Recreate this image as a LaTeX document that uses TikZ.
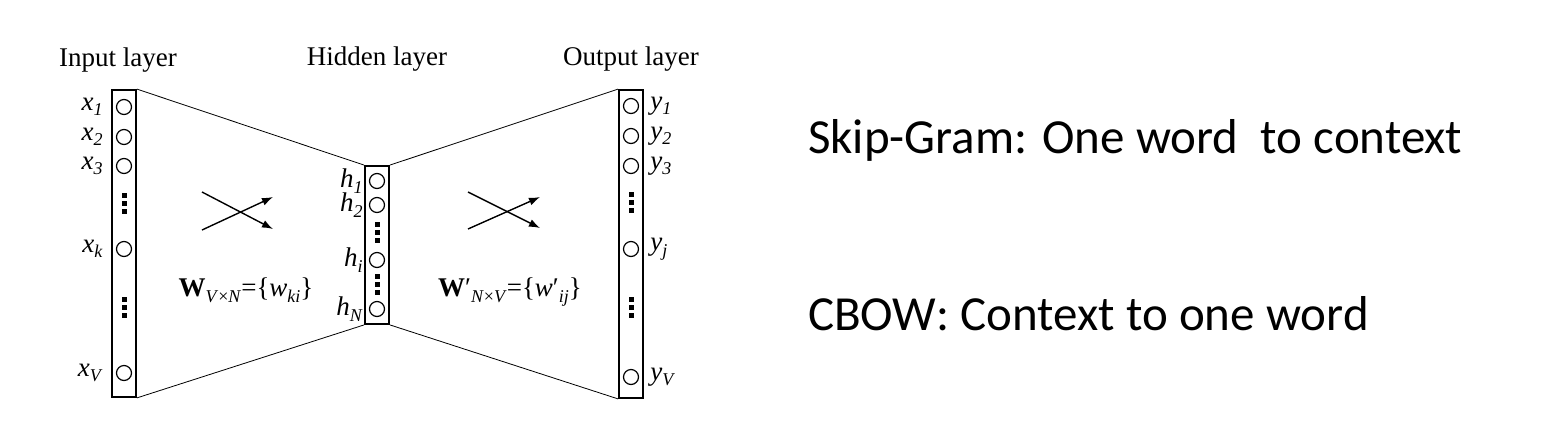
\documentclass[tikz,border=0pt]{standalone}
\usepackage{fontspec}
\setmainfont{Liberation Serif}
\newfontfamily\calib{Carlito}
\usetikzlibrary{arrows.meta}

\newcommand\sub[2]{\textit{#1}\raisebox{-0.45ex}{\fontsize{18}{18}\selectfont\textit{#2}}}

\tikzset{
  layer/.style={draw, line width=1.8pt, minimum width=24pt, inner sep=0pt},
  neuron/.style={circle, draw, line width=1.2pt, minimum size=15pt, inner sep=0pt},
  vdots/.style={line width=5pt, dash pattern=on 5pt off 3pt},
  lbl/.style={font=\fontsize{27}{27}\selectfont, inner sep=1pt},
  edge/.style={line width=0.8pt},
  cross/.style={-{Latex[length=11pt,width=8pt]}, line width=1.4pt},
  note/.style={font=\calib\fontsize{49}{49}\selectfont, anchor=base west, inner sep=0pt}
}

\begin{document}
\begin{tikzpicture}[x=1pt, y=-1pt]
  \useasboundingbox (0,0) rectangle (1542,432);

  % layers
  \node[layer, minimum height=307pt] (inp) at (124,243.5) {};
  \node[layer, minimum height=158pt] (hid) at (377,245) {};
  \node[layer, minimum height=308pt] (out) at (631,244) {};

  \node[lbl, anchor=base] (tin) at (118,66) {Input layer};
  \node[lbl, anchor=base] (thid) at (377,65) {Hidden layer};
  \node[lbl, anchor=base] (tout) at (631,65) {Output layer};

  % neurons
  \foreach \n/\y in {1/107, 2/137, 3/166, k/249, V/373}
    \node[neuron, label={[lbl, label distance=12pt]left:\sub{x}{\n}}] (x\n) at (124,\y) {};
  \foreach \n/\y in {1/181, 2/205, i/260, N/309}
    \node[neuron, label={[lbl, label distance=5pt]left:\sub{h}{\n}}] (h\n) at (377,\y) {};
  \foreach \n/\y in {1/106, 2/136, 3/166, j/249, V/377}
    \node[neuron, label={[lbl, label distance=10pt]right:\sub{y}{\n}}] (y\n) at (631,\y) {};

  \draw[vdots] (124,193) -- (124,214);
  \draw[vdots] (124,297) -- (124,318);
  \draw[vdots] (377,222) -- (377,243);
  \draw[vdots] (377,274) -- (377,295);
  \draw[vdots] (631,192) -- (631,213);
  \draw[vdots] (631,297) -- (631,318);

  % connections
  \draw[edge] (inp.north east) -- (hid.north west);
  \draw[edge] (inp.south east) -- (hid.south west);
  \draw[edge] (hid.north east) -- (out.north west);
  \draw[edge] (hid.south east) -- (out.south west);

  \coordinate (a1) at (202,192);
  \coordinate (a2) at (273,229);
  \coordinate (a3) at (202,230);
  \coordinate (a4) at (273,197);
  \draw[cross] (a1) -- (a2);
  \draw[cross] (a3) -- (a4);
  \coordinate (b1) at (468,192);
  \coordinate (b2) at (540,228);
  \coordinate (b3) at (468,229);
  \coordinate (b4) at (540,197);
  \draw[cross] (b1) -- (b2);
  \draw[cross] (b3) -- (b4);

  \node[lbl] (wl) at (246,290) {\textbf{W}\raisebox{-0.45ex}{\fontsize{18}{18}\selectfont\textit{V}×\textit{N}}=\{\sub{w}{ki}\}};
  \node[lbl] (wr) at (510,292) {\textbf{W}′\raisebox{-0.45ex}{\fontsize{18}{18}\selectfont\textit{N}×\textit{V}}=\{\textit{w}′\raisebox{-0.45ex}{\fontsize{18}{18}\selectfont\textit{ij}}\}};

  % models
  \node[note] (sg) at (808,153) {Skip-Gram: One word\ \ to context};
  \node[note] (cb) at (808,330) {CBOW: Context to one word};
\end{tikzpicture}
\end{document}
